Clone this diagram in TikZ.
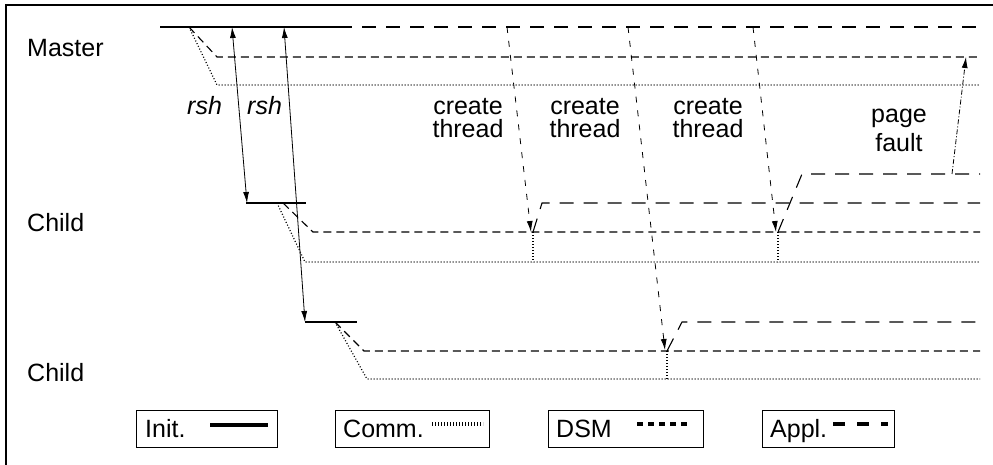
\documentclass[tikz,border=0pt]{standalone}
\usepackage{fontspec}
\setmainfont{Liberation Sans}
\usetikzlibrary{arrows.meta}
\begin{document}
\begin{tikzpicture}[x=1pt,y=-1pt,
  lbl/.style={font=\fontsize{25}{22}\selectfont, inner sep=0pt, anchor=base west},
  clbl/.style={font=\fontsize{25}{23}\selectfont, inner sep=0pt, anchor=base, align=center},
  initl/.style={line width=1.5pt},
  appl/.style={line width=1.1pt, dash pattern=on 14pt off 10pt},
  dsm/.style={line width=1.1pt, dash pattern=on 8pt off 5pt},
  comm/.style={line width=1.2pt, dash pattern=on 1pt off 2pt},
  tip/.style={-{Latex[length=11pt,width=6pt]}},
  rsharrow/.style={line width=0.8pt, {Latex[length=11pt,width=6pt]}-{Latex[length=11pt,width=6pt]}},
  ctarrow/.style={line width=0.8pt, dash pattern=on 6pt off 8pt, tip},
  pfarrow/.style={line width=0.8pt, dash pattern=on 5pt off 2pt on 1pt off 2pt, tip},
  legbox/.style={draw, line width=0.9pt, inner sep=0pt},
]
\useasboundingbox (0,0) rectangle (993,465);
\draw[line width=1.5pt] (6,465) -- (6,5) -- (993,5);

% labels
\node[lbl] (lmaster) at (27,57) {Master};
\node[lbl] (lchild1) at (27,231) {Child};
\node[lbl] (lchild2) at (27,381) {Child};
\node[lbl, font=\fontsize{25}{22}\selectfont\itshape] (lrsh1) at (187,115) {rsh};
\node[lbl, font=\fontsize{25}{22}\selectfont\itshape] (lrsh2) at (247,115) {rsh};
\node[clbl] (lct1) at (468,138) {create\\thread};
\node[clbl] (lct2) at (585,138) {create\\thread};
\node[clbl] (lct3) at (708,138) {create\\thread};
\node[clbl, font=\fontsize{25}{29}\selectfont] (lpf) at (899,152) {page\\fault};

% Master
\coordinate (M0) at (160,27);
\coordinate (M1) at (338,27);
\coordinate (Mf) at (189,27);
\coordinate (Mdsm) at (217,57);
\coordinate (Mcomm) at (217,85);
\coordinate (MaE) at (980,27);
\coordinate (MdE) at (980,57);
\coordinate (McE) at (980,85);
\draw[initl] (M0) -- (M1);
\draw[appl] (M1) -- (MaE);
\draw[dsm] (Mf) -- (Mdsm) -- (MdE);
\draw[comm] (Mf) -- (Mcomm) -- (McE);

% Child 1
\coordinate (C1a) at (246,203);
\coordinate (C1b) at (306,203);
\coordinate (C1fd) at (283,203);
\coordinate (C1fc) at (277,203);
\coordinate (C1dsm) at (313,232);
\coordinate (C1comm) at (305,262);
\coordinate (C1dE) at (980,232);
\coordinate (C1cE) at (980,262);
\draw[initl] (C1a) -- (C1b);
\draw[dsm] (C1fd) -- (C1dsm) -- (C1dE);
\draw[comm] (C1fc) -- (C1comm) -- (C1cE);

% Child 2
\coordinate (C2a) at (305,322);
\coordinate (C2b) at (357,322);
\coordinate (C2f) at (335,322);
\coordinate (C2dsm) at (364,351);
\coordinate (C2comm) at (367,379);
\coordinate (C2dE) at (980,351);
\coordinate (C2cE) at (980,379);
\draw[initl] (C2a) -- (C2b);
\draw[dsm] (C2f) -- (C2dsm) -- (C2dE);
\draw[comm] (C2f) -- (C2comm) -- (C2cE);

% rsh
\coordinate (R1s) at (232,27);
\coordinate (R2s) at (284,27);
\coordinate (R1e) at (247,203);
\coordinate (R2e) at (305,322);
\draw[rsharrow] (R1s) -- (R1e);
\draw[rsharrow] (R2s) -- (R2e);

% thread 1 (child 1)
\coordinate (T1s) at (507,27);
\coordinate (T1e) at (531,232);
\coordinate (T1o) at (533,232);
\coordinate (T1u) at (542,203);
\coordinate (T1E) at (980,203);
\coordinate (T1c) at (533,262);
\draw[ctarrow] (T1s) -- (T1e);
\draw[appl] (T1o) -- (T1u) -- (T1E);
\draw[comm] (T1o) -- (T1c);

% thread 2 (child 2)
\coordinate (T2s) at (628,27);
\coordinate (T2e) at (665,350);
\coordinate (T2o) at (667,351);
\coordinate (T2u) at (682,322);
\coordinate (T2E) at (980,322);
\coordinate (T2c) at (667,379);
\draw[ctarrow] (T2s) -- (T2e);
\draw[appl] (T2o) -- (T2u) -- (T2E);
\draw[comm] (T2o) -- (T2c);

% thread 3 (child 1)
\coordinate (T3s) at (753,27);
\coordinate (T3e) at (776,232);
\coordinate (T3o) at (778,232);
\coordinate (T3u) at (802,174);
\coordinate (T3E) at (980,174);
\coordinate (T3c) at (778,262);
\draw[ctarrow] (T3s) -- (T3e);
\draw[appl] (T3o) -- (T3u) -- (T3E);
\draw[comm] (T3o) -- (T3c);

% page fault
\coordinate (PFs) at (952,174);
\coordinate (PFe) at (966,57);
\draw[pfarrow] (PFs) -- (PFe);

% legend
\draw[legbox] (136,410) rectangle (277,447);
\node[lbl] (linit) at (145,437) {Init.};
\coordinate (Li0) at (210,425); \coordinate (Li1) at (268,425);
\draw[line width=3.5pt] (Li0) -- (Li1);

\draw[legbox] (335,410) rectangle (489,447);
\node[lbl] (lcomm) at (343,437) {Comm.};
\coordinate (Lc0) at (432,424); \coordinate (Lc1) at (483,424);
\draw[line width=3.5pt, dash pattern=on 1pt off 2pt] (Lc0) -- (Lc1);

\draw[legbox] (548,410) rectangle (703,447);
\node[lbl] (ldsm) at (556,437) {DSM};
\coordinate (Ld0) at (637,424); \coordinate (Ld1) at (689,424);
\draw[line width=4pt, dash pattern=on 6pt off 5pt] (Ld0) -- (Ld1);

\draw[legbox] (762,410) rectangle (894,447);
\node[lbl] (lappl) at (770,437) {Appl.};
\coordinate (La0) at (833,424); \coordinate (La1) at (888,424);
\draw[line width=4pt, dash pattern=on 12pt off 12pt] (La0) -- (La1);
\end{tikzpicture}
\end{document}
